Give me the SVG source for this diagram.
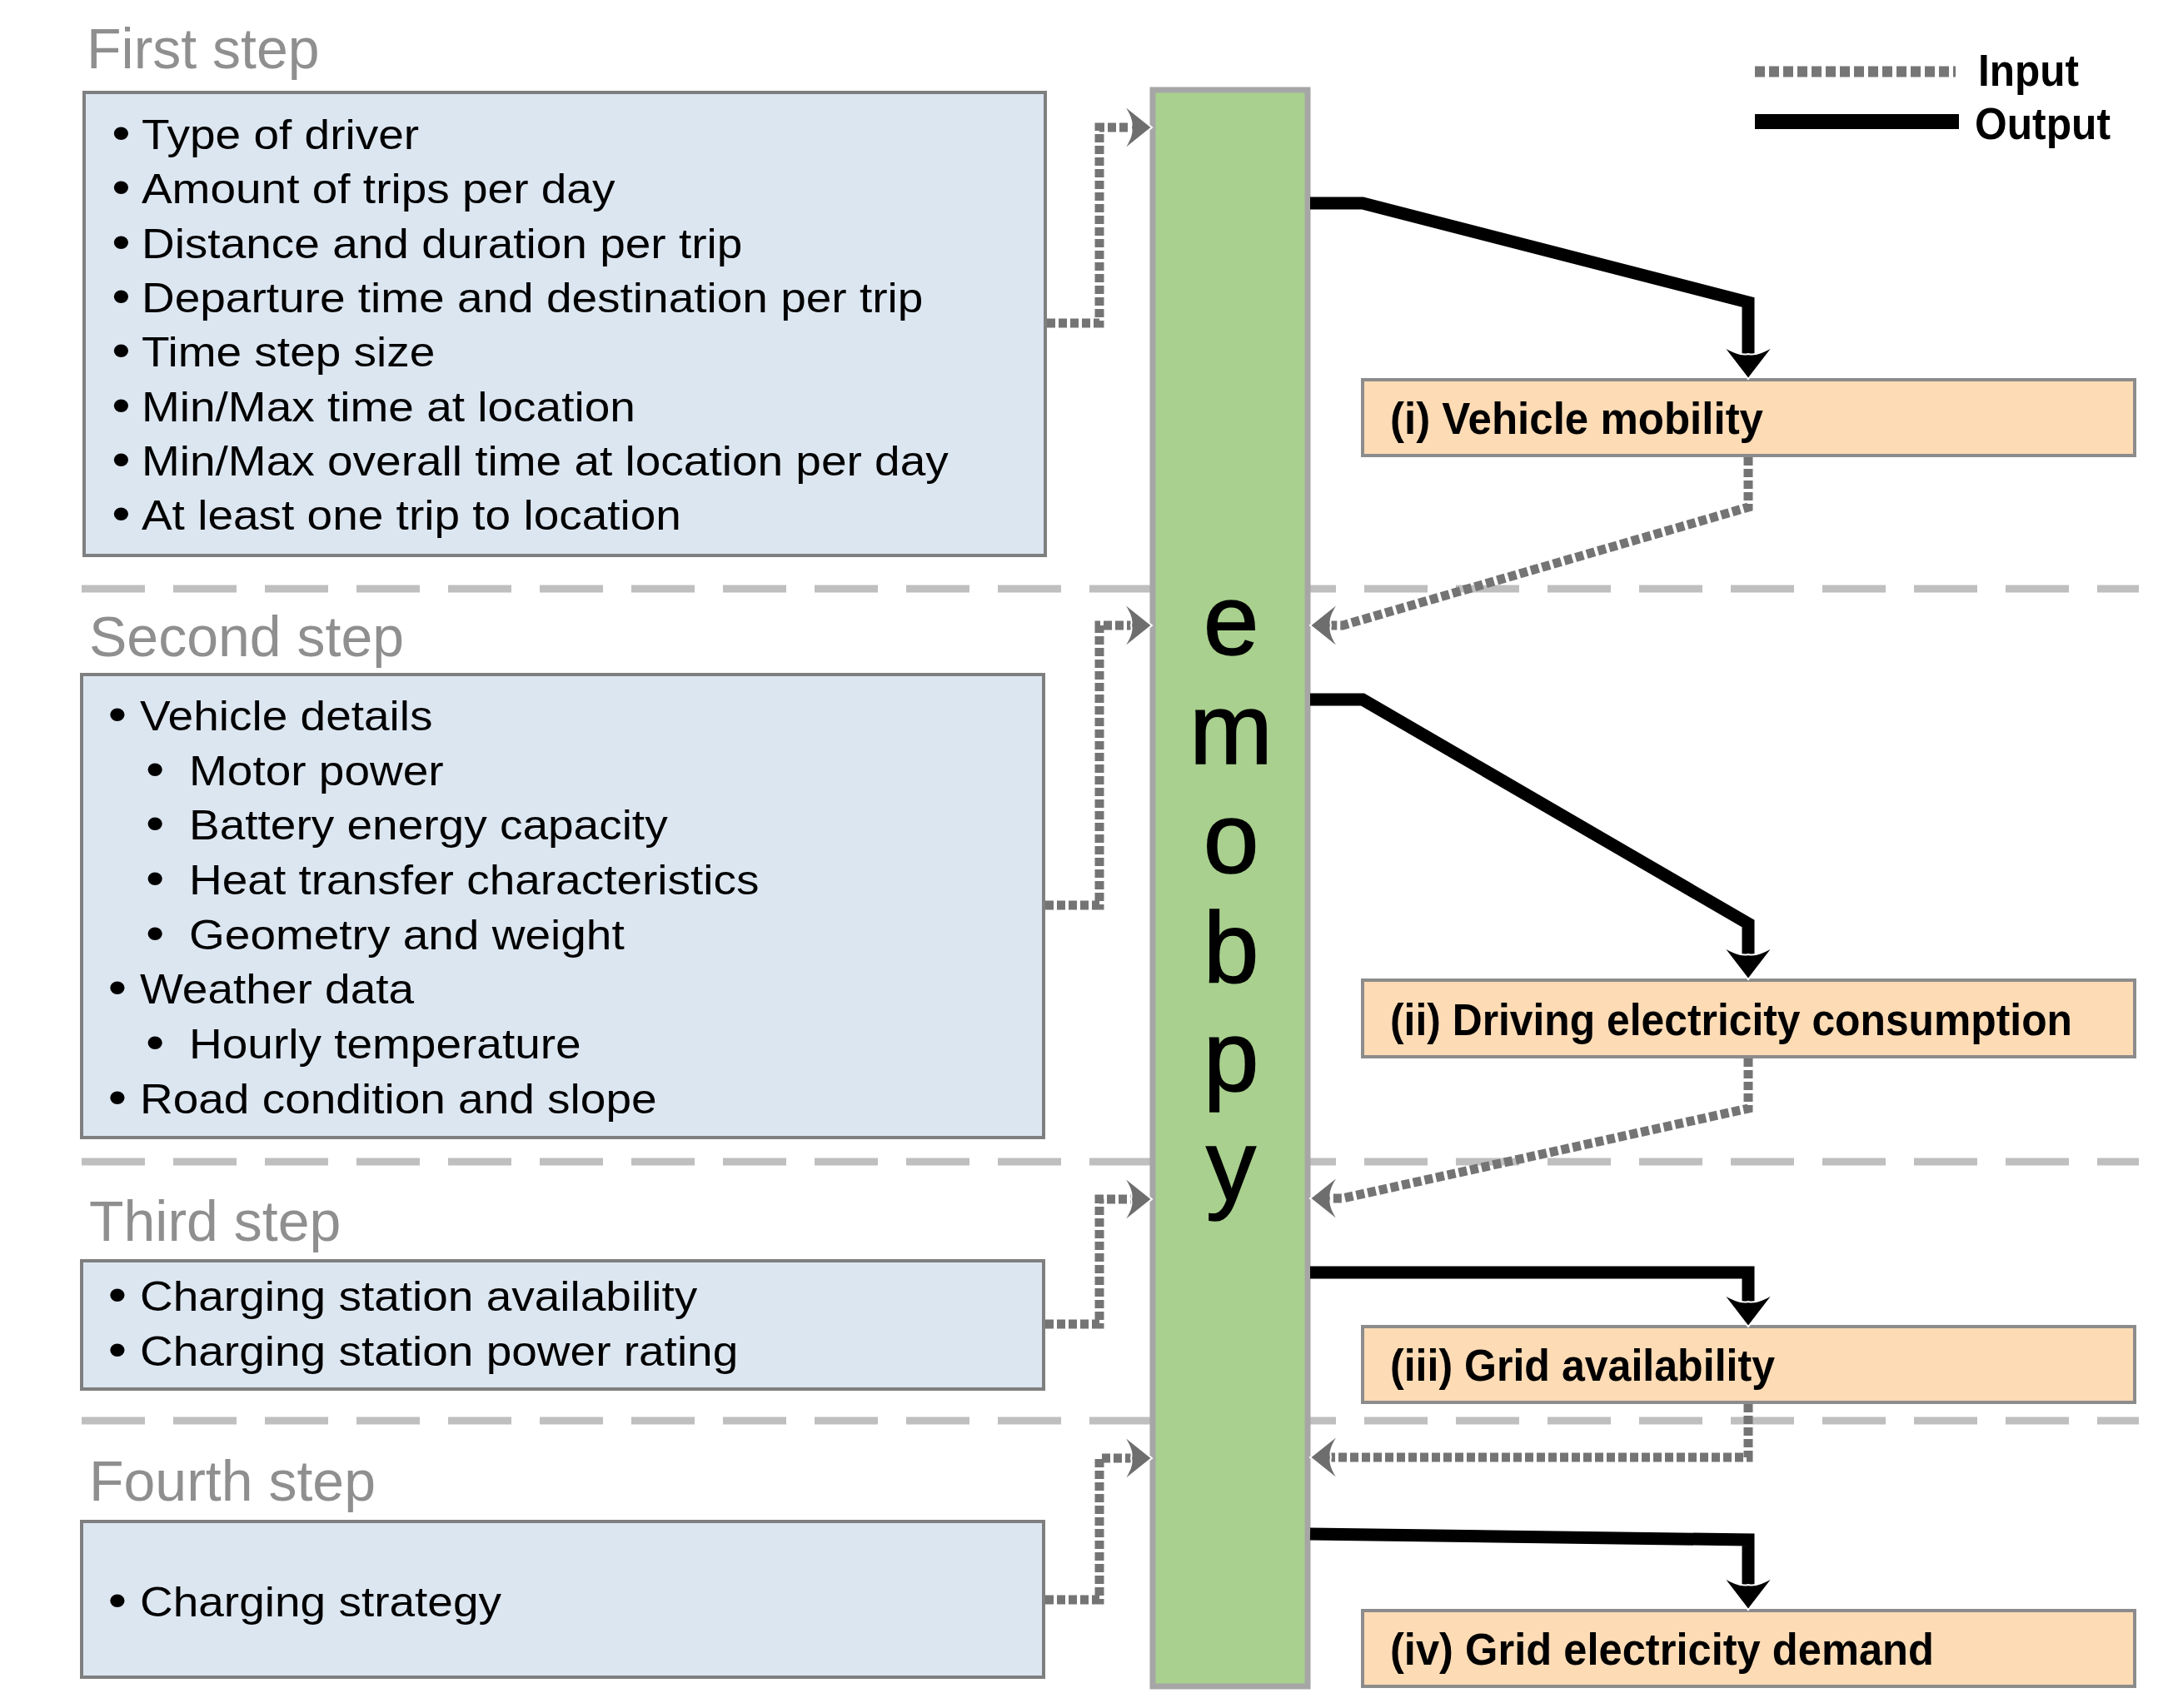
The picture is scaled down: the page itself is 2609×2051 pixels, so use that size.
<svg xmlns="http://www.w3.org/2000/svg" width="2609" height="2051" viewBox="0 0 2609 2051">
<style>
text{font-family:"Liberation Sans",Arial,Helvetica,sans-serif}
.box{fill:#dce6f1;stroke:#7f7f7f;stroke-width:4}
.outbox{fill:#fddbb5;stroke:#8c8c8c;stroke-width:4}
.bar{fill:#a9d08e;stroke:#a6a6a6;stroke-width:7}
.title{font-size:68px;fill:#8f8f8f}
.body{font-size:50px;fill:#000}
.bul{font-size:58px}
.lbl{font-size:54px;font-weight:bold;fill:#000}
.big{font-size:120px;fill:#000;text-anchor:middle;stroke:#000;stroke-width:1.5}
.sep{stroke:#bfbfbf;stroke-width:9;stroke-dasharray:76 34;fill:none}
.in{stroke:#747474;stroke-width:11;stroke-dasharray:10 4;fill:none}
.out{stroke:#000;stroke-width:15;fill:none;stroke-linejoin:miter}
</style>
<defs>
<marker id="ahin" markerUnits="userSpaceOnUse" viewBox="-2 -30 40 60" markerWidth="40" markerHeight="60" refX="10" refY="0" orient="auto" overflow="visible">
<path d="M35,0 L0,-28 Q13,-9 10,0 Q13,9 0,28 Z" fill="#6e6e6e" stroke="#fff" stroke-width="2"/>
</marker>
<marker id="ahout" markerUnits="userSpaceOnUse" viewBox="-2 -32 44 64" markerWidth="44" markerHeight="64" refX="9" refY="0" orient="auto" overflow="visible">
<path d="M39,0 L0,-30 Q12,-10 9,0 Q12,10 0,30 Z" fill="#000" stroke="#fff" stroke-width="2"/>
</marker>
</defs>
<rect width="2609" height="2051" fill="#fff"/>

<g id="separators">
<line class="sep" x1="98" y1="707" x2="2568" y2="707"/>
<line class="sep" x1="98" y1="1395" x2="2568" y2="1395"/>
<line class="sep" x1="98" y1="1706" x2="2568" y2="1706"/>
</g>

<g id="titles">
<text class="title" x="104" y="82">First step</text>
<text class="title" x="107" y="788">Second step</text>
<text class="title" x="107" y="1490">Third step</text>
<text class="title" x="107" y="1802">Fourth step</text>
</g>

<g id="step1">
<rect class="box" x="101" y="111" width="1154" height="556"/>
<g transform="scale(1.1 1)">
<text class="body" y="179"><tspan class="bul" x="122">•</tspan><tspan x="154.5">Type of driver</tspan></text>
<text class="body" y="244"><tspan class="bul" x="122">•</tspan><tspan x="154.5">Amount of trips per day</tspan></text>
<text class="body" y="310"><tspan class="bul" x="122">•</tspan><tspan x="154.5">Distance and duration per trip</tspan></text>
<text class="body" y="375"><tspan class="bul" x="122">•</tspan><tspan x="154.5">Departure time and destination per trip</tspan></text>
<text class="body" y="440"><tspan class="bul" x="122">•</tspan><tspan x="154.5">Time step size</tspan></text>
<text class="body" y="506"><tspan class="bul" x="122">•</tspan><tspan x="154.5">Min/Max time at location</tspan></text>
<text class="body" y="571"><tspan class="bul" x="122">•</tspan><tspan x="154.5">Min/Max overall time at location per day</tspan></text>
<text class="body" y="636"><tspan class="bul" x="122">•</tspan><tspan x="154.5">At least one trip to location</tspan></text>
</g>
</g>

<g id="step2">
<rect class="box" x="98" y="810" width="1155" height="556"/>
<g transform="scale(1.1 1)">
<text class="body" y="877"><tspan class="bul" x="118">•</tspan><tspan x="152.7">Vehicle details</tspan></text>
<text class="body" y="943"><tspan class="bul" x="159">•</tspan><tspan x="206.4">Motor power</tspan></text>
<text class="body" y="1008"><tspan class="bul" x="159">•</tspan><tspan x="206.4">Battery energy capacity</tspan></text>
<text class="body" y="1074"><tspan class="bul" x="159">•</tspan><tspan x="206.4">Heat transfer characteristics</tspan></text>
<text class="body" y="1140"><tspan class="bul" x="159">•</tspan><tspan x="206.4">Geometry and weight</tspan></text>
<text class="body" y="1205"><tspan class="bul" x="118">•</tspan><tspan x="152.7">Weather data</tspan></text>
<text class="body" y="1271"><tspan class="bul" x="159">•</tspan><tspan x="206.4">Hourly temperature</tspan></text>
<text class="body" y="1337"><tspan class="bul" x="118">•</tspan><tspan x="152.7">Road condition and slope</tspan></text>
</g>
</g>

<g id="step3">
<rect class="box" x="98" y="1514" width="1155" height="154"/>
<g transform="scale(1.1 1)">
<text class="body" y="1574"><tspan class="bul" x="118">•</tspan><tspan x="152.7">Charging station availability</tspan></text>
<text class="body" y="1640"><tspan class="bul" x="118">•</tspan><tspan x="152.7">Charging station power rating</tspan></text>
</g>
</g>

<g id="step4">
<rect class="box" x="98" y="1827" width="1155" height="187"/>
<g transform="scale(1.1 1)">
<text class="body" y="1941"><tspan class="bul" x="118">•</tspan><tspan x="152.7">Charging strategy</tspan></text>
</g>
</g>

<g id="emobpy">
<rect class="bar" x="1384" y="108" width="186" height="1917"/>
<text class="big" x="1478" y="786">e</text>
<text class="big" x="1478" y="917">m</text>
<text class="big" x="1478" y="1048">o</text>
<text class="big" x="1478" y="1179">b</text>
<text class="big" x="1478" y="1310">p</text>
<text class="big" x="1478" y="1441">y</text>
</g>

<g id="out1">
<rect class="outbox" x="1636" y="456" width="927" height="91"/>
<text class="lbl" x="1669" y="521" textLength="448" lengthAdjust="spacingAndGlyphs">(i) Vehicle mobility</text>
</g>
<g id="out2">
<rect class="outbox" x="1636" y="1177" width="927" height="92"/>
<text class="lbl" x="1669" y="1243" textLength="819" lengthAdjust="spacingAndGlyphs">(ii) Driving electricity consumption</text>
</g>
<g id="out3">
<rect class="outbox" x="1636" y="1593" width="927" height="91"/>
<text class="lbl" x="1669" y="1658" textLength="462" lengthAdjust="spacingAndGlyphs">(iii) Grid availability</text>
</g>
<g id="out4">
<rect class="outbox" x="1636" y="1934" width="927" height="91"/>
<text class="lbl" x="1669" y="1999" textLength="653" lengthAdjust="spacingAndGlyphs">(iv) Grid electricity demand</text>
</g>

<g id="connectors">
<path class="in" d="M1257,388 H1320 V153 H1358" marker-end="url(#ahin)"/>
<path class="in" d="M1255,1087 H1320 V751 H1358" marker-end="url(#ahin)"/>
<path class="in" d="M1255,1590 H1320 V1440 H1358" marker-end="url(#ahin)"/>
<path class="in" d="M1255,1921 H1320 V1751 H1358" marker-end="url(#ahin)"/>

<path class="in" d="M2099,549 V609 L1612,751 H1598" marker-end="url(#ahin)"/>
<path class="in" d="M2099,1271 V1331 L1612,1439 H1598" marker-end="url(#ahin)"/>
<path class="in" d="M2099,1686 V1750 H1598" marker-end="url(#ahin)"/>

<path class="out" d="M1573,244 H1636 L2099,363 V425" marker-end="url(#ahout)"/>
<path class="out" d="M1573,840 H1636 L2099,1109 V1146" marker-end="url(#ahout)"/>
<path class="out" d="M1573,1528 H2099 V1563" marker-end="url(#ahout)"/>
<path class="out" d="M1573,1842 L2099,1849 V1903" marker-end="url(#ahout)"/>
</g>

<g id="legend">
<line x1="2107" y1="86" x2="2348" y2="86" stroke="#767676" stroke-width="13" stroke-dasharray="12 5"/>
<line x1="2107" y1="146" x2="2352" y2="146" stroke="#000" stroke-width="18"/>
<text class="lbl" x="2375" y="103" textLength="121" lengthAdjust="spacingAndGlyphs">Input</text>
<text class="lbl" x="2371" y="167" textLength="163" lengthAdjust="spacingAndGlyphs">Output</text>
</g>
</svg>
